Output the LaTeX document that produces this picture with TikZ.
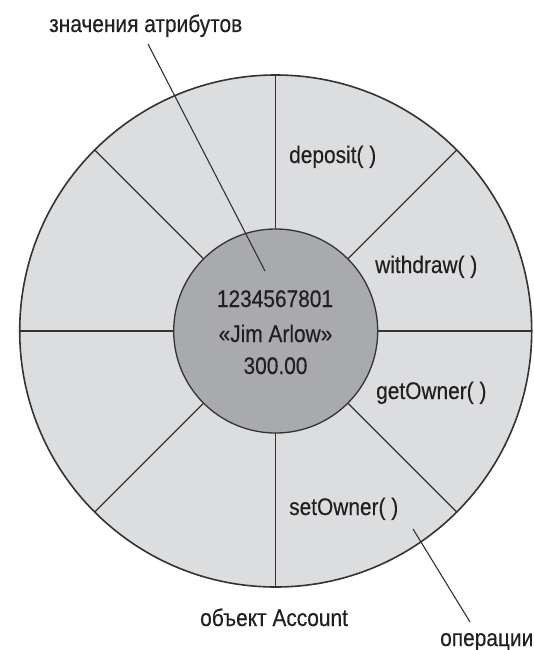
\documentclass[tikz,border=0pt]{standalone}
\usepackage{fontspec}
\usetikzlibrary{calc}
\setmainfont{Liberation Sans}[FakeStretch=0.87,FakeBold=0.35]
\definecolor{outerfill}{HTML}{DCDDDF}
\definecolor{innerfill}{HTML}{A9AAAD}
\definecolor{ink}{HTML}{231F20}
\definecolor{linec}{HTML}{333333}
\begin{document}
\begin{tikzpicture}[x=1bp,y=-1bp,
  lbl/.style={inner sep=0pt,anchor=base west,text=ink,font=\fontsize{24bp}{28bp}\selectfont},
  ctr/.style={inner sep=0pt,anchor=base,text=ink,font=\fontsize{24bp}{28bp}\selectfont},
  spoke/.style={draw=linec,line width=1.3bp},
  leader/.style={draw=linec,line width=1.1bp}]
\useasboundingbox (0,0) rectangle (534,650);
\coordinate (C) at (275.7,331);
% outer ring
\fill[outerfill] (C) circle[radius=256];
\foreach \a in {0,45,...,315}{
  \draw[spoke] ($(C)+(\a:102)$) -- ($(C)+(\a:256)$);
}
\draw[linec,line width=1.6bp] (C) circle[radius=256];
% inner core
\node[circle,minimum size=204bp,inner sep=0pt,fill=innerfill,draw=linec,line width=1.3bp] (core) at (C) {};
% attribute values
\node[ctr] (v1) at (275,307) {1234567801};
\node[ctr] (v2) at (275.5,342) {«Jim Arlow»};
\node[ctr] (v3) at (275.5,374) {300.00};
% operations
\node[lbl] (dep) at (289,163) {deposit( )};
\node[lbl] (wd) at (375,273) {withdraw( )};
\node[lbl] (go) at (376,399) {getOwner( )};
\node[lbl] (so) at (289,515) {setOwner( )};
% captions
\node[lbl] (attr) at (49,32) {значения атрибутов};
\node[lbl] (obj) at (200,626) {объект Account};
\node[lbl] (ops) at (440,646) {операции};
% leader lines
\coordinate (attrA) at (148,44);
\coordinate (attrB) at (265,271);
\coordinate (opsA) at (413,529);
\coordinate (opsB) at (470,622);
\draw[leader] (attrA) -- (attrB);
\draw[leader] (opsA) -- (opsB);
\end{tikzpicture}
\end{document}
